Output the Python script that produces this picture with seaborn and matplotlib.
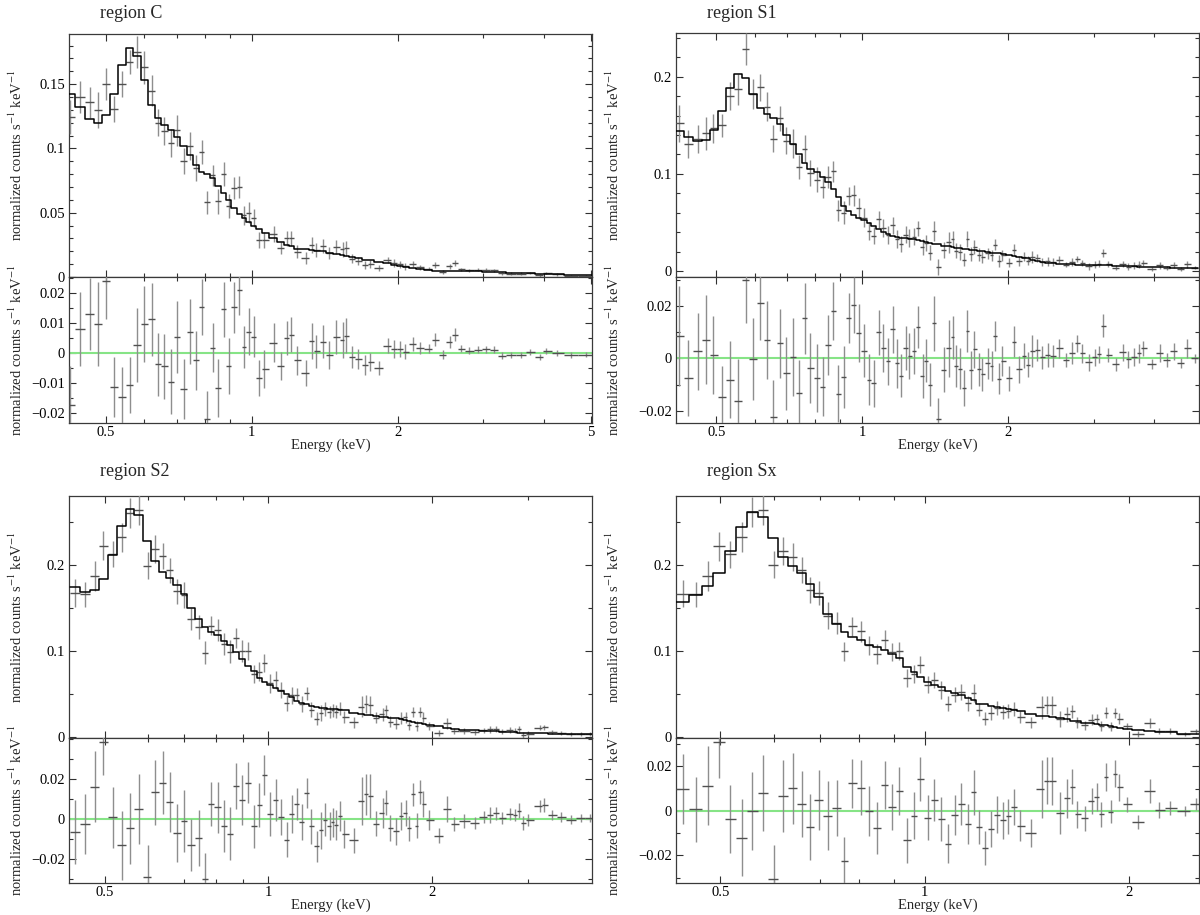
import numpy as np
import matplotlib
matplotlib.use("Agg")
import matplotlib.pyplot as plt
import matplotlib.ticker as mticker
import seaborn as sns

# ---------------- region C ----------------
c_energy = [0.4227, 0.4422, 0.4648, 0.4820, 0.5016, 0.5202, 0.5396, 0.5598, 0.5806, 0.6010,
            0.6223, 0.6408, 0.6608, 0.6805, 0.7007, 0.7240, 0.7465, 0.7659, 0.7887, 0.8077,
            0.8302, 0.8532, 0.8768, 0.8964, 0.9194, 0.9417, 0.9642, 0.9856, 1.0092, 1.0354,
            1.0602, 1.1097, 1.1466, 1.1829, 1.2047, 1.2403, 1.2910, 1.3317, 1.3587, 1.4042,
            1.4456, 1.4937, 1.5409, 1.5635, 1.6069, 1.6576, 1.7130, 1.7541, 1.8259, 1.9110,
            1.9642, 2.0188, 2.0749, 2.1517, 2.2197, 2.3150, 2.3925, 2.4768, 2.5594, 2.6208,
            2.7035, 2.8037, 2.9345, 3.0436, 3.1569, 3.2740, 3.4266, 3.5865, 3.7538, 3.9289,
            4.0379, 4.2658, 4.5478, 4.8915]
c_data = [0.1245, 0.140, 0.136, 0.1297, 0.150, 0.1305, 0.150, 0.167, 0.175, 0.163,
          0.145, 0.120, 0.1135, 0.104, 0.114, 0.090, 0.102, 0.0845, 0.097, 0.058,
          0.079, 0.059, 0.080, 0.0555, 0.069, 0.070, 0.048, 0.050, 0.0455, 0.0287,
          0.0287, 0.0335, 0.0225, 0.030, 0.030, 0.0195, 0.0147, 0.025, 0.021, 0.0238,
          0.0184, 0.0233, 0.0214, 0.0223, 0.0142, 0.0125, 0.0095, 0.010, 0.007, 0.013,
          0.0108, 0.0098, 0.0082, 0.010, 0.0077, 0.0066, 0.0094, 0.0042, 0.0083, 0.0107,
          0.0059, 0.0053, 0.0055, 0.0055, 0.0051, 0.0028, 0.0026, 0.0025, 0.0031, 0.0013,
          0.003, 0.002, 0.001, 0.0007]
c_err = [0.013, 0.0125, 0.012, 0.014, 0.0125, 0.010, 0.010, 0.0095, 0.0125, 0.0128,
         0.0122, 0.0106, 0.011, 0.011, 0.012, 0.010, 0.011, 0.010, 0.0094, 0.0092,
         0.0083, 0.0097, 0.0092, 0.0094, 0.0086, 0.0086, 0.0072, 0.008, 0.007, 0.006,
         0.0064, 0.0064, 0.0047, 0.0058, 0.0058, 0.005, 0.0044, 0.006, 0.0055, 0.0055,
         0.0047, 0.0058, 0.006, 0.0058, 0.0036, 0.0033, 0.0033, 0.003, 0.0023, 0.0025,
         0.003, 0.0028, 0.0025, 0.0025, 0.002, 0.0015, 0.0022, 0.0015, 0.002, 0.0022,
         0.0012, 0.0012, 0.0012, 0.0012, 0.0011, 0.0011, 0.001, 0.001, 0.001, 0.001,
         0.001, 0.0009, 0.0009, 0.0008]
c_model = [0.142, 0.132, 0.123, 0.120, 0.126, 0.142, 0.165, 0.178, 0.172, 0.153,
           0.134, 0.124, 0.118, 0.114, 0.109, 0.102, 0.095, 0.087, 0.082, 0.080,
           0.077, 0.071, 0.065, 0.060, 0.054, 0.049, 0.046, 0.043, 0.040, 0.037,
           0.034, 0.030, 0.027, 0.025, 0.024, 0.022, 0.0215, 0.021, 0.0205, 0.020,
           0.019, 0.018, 0.017, 0.0165, 0.0155, 0.0145, 0.0135, 0.013, 0.012, 0.0105,
           0.0095, 0.0085, 0.0078, 0.007, 0.006, 0.0052, 0.005, 0.0048, 0.0047, 0.0046,
           0.0045, 0.0045, 0.0044, 0.0042, 0.004, 0.0037, 0.0034, 0.0031, 0.0029, 0.0026,
           0.0024, 0.002, 0.0017, 0.0013]
c_resid = [-0.0175, 0.008, 0.013, 0.0097, 0.024, -0.0115, -0.0147, -0.0107, 0.0027, 0.0097,
           0.0113, -0.0038, -0.0045, -0.0096, 0.0053, -0.012, 0.0072, -0.0025, 0.0153, -0.022,
           0.0018, -0.0117, 0.0147, -0.0045, 0.0153, 0.0213, 0.002, 0.0072, 0.0055, -0.0083,
           -0.0053, 0.0035, -0.0045, 0.0051, 0.0062, -0.0025, -0.0068, 0.0041, 0.0006, 0.0038,
           -0.0006, 0.0053, 0.0044, 0.0058, -0.0013, -0.002, -0.004, -0.003, -0.005, 0.0025,
           0.0013, 0.0013, 0.0004, 0.003, 0.0017, 0.0014, 0.0044, -0.0006, 0.0036, 0.0061,
           0.0014, 0.0008, 0.0011, 0.0013, 0.0011, -0.0009, -0.0008, -0.0006, 0.0002, -0.0013,
           0.0006, 0.0, -0.0007, -0.0006]

# ---------------- region S1 ----------------
s1_energy = [0.4188, 0.4375, 0.4589, 0.4759, 0.4934, 0.5137, 0.5347, 0.5556, 0.5753, 0.5944,
             0.6166, 0.6361, 0.6561, 0.6757, 0.6969, 0.7201, 0.7401, 0.7605, 0.7816, 0.8062,
             0.8286, 0.8501, 0.8721, 0.8931, 0.9162, 0.9382, 0.9607, 0.9837, 1.0092, 1.0334,
             1.0563, 1.0816, 1.1056, 1.1301, 1.1551, 1.1806, 1.2023, 1.2289, 1.2515, 1.2794,
             1.3030, 1.3318, 1.3563, 1.3813, 1.4067, 1.4326, 1.4723, 1.5076, 1.5355, 1.5637,
             1.5925, 1.6218, 1.6457, 1.6759, 1.7039, 1.7384, 1.7703, 1.8160, 1.8493, 1.8765,
             1.9110, 1.9461, 2.0113, 2.0558, 2.1051, 2.1597, 2.1994, 2.2439, 2.2935, 2.3486,
             2.4138, 2.4763, 2.5506, 2.6303, 2.7035, 2.7781, 2.8445, 2.9290, 3.0170, 3.0837,
             3.1403, 3.2156, 3.3343, 3.4452, 3.5409, 3.6392, 3.7197, 3.7950, 3.9510, 4.1131,
             4.2506, 4.3920, 4.5474, 4.6737, 4.8470]
s1_data = [0.152, 0.1305, 0.136, 0.142, 0.147, 0.150, 0.180, 0.187, 0.229, 0.182,
           0.189, 0.169, 0.136, 0.157, 0.134, 0.131, 0.107, 0.126, 0.101, 0.094,
           0.086, 0.0966, 0.1026, 0.0624, 0.060, 0.077, 0.078, 0.0646, 0.055, 0.041,
           0.0365, 0.053, 0.044, 0.037, 0.047, 0.033, 0.0274, 0.0374, 0.034, 0.0353,
           0.044, 0.0243, 0.029, 0.019, 0.0414, 0.0043, 0.0217, 0.0294, 0.033, 0.021,
           0.0196, 0.0117, 0.0329, 0.0176, 0.0249, 0.0169, 0.0144, 0.0181, 0.0161, 0.0271,
           0.0103, 0.016, 0.0084, 0.0218, 0.0099, 0.0145, 0.0106, 0.0144, 0.0138, 0.0094,
           0.0098, 0.0092, 0.0114, 0.0064, 0.0088, 0.0123, 0.0083, 0.0047, 0.0066, 0.0076,
           0.0184, 0.0071, 0.0033, 0.0073, 0.0045, 0.0053, 0.0065, 0.0083, 0.0021, 0.006,
           0.0031, 0.0062, 0.0016, 0.0071, 0.0032]
s1_err = [0.019, 0.0144, 0.0146, 0.017, 0.015, 0.012, 0.0147, 0.016, 0.0165, 0.0155,
          0.014, 0.015, 0.014, 0.013, 0.0138, 0.0149, 0.0127, 0.0136, 0.0133, 0.0128,
          0.0113, 0.0114, 0.011, 0.0108, 0.0117, 0.0095, 0.0106, 0.011, 0.0101, 0.0096,
          0.009, 0.0085, 0.0092, 0.0089, 0.0089, 0.0092, 0.0082, 0.0084, 0.0089, 0.0089,
          0.0079, 0.0082, 0.0082, 0.0081, 0.0104, 0.008, 0.0085, 0.0108, 0.0082, 0.0081,
          0.0079, 0.007, 0.0079, 0.0073, 0.0071, 0.0063, 0.0062, 0.006, 0.0057, 0.0057,
          0.006, 0.0057, 0.0047, 0.0059, 0.0051, 0.0047, 0.0047, 0.0062, 0.0041, 0.0044,
          0.0047, 0.0041, 0.0036, 0.0028, 0.0041, 0.0034, 0.0035, 0.0032, 0.0032, 0.0032,
          0.0044, 0.0028, 0.0025, 0.0032, 0.0032, 0.0035, 0.0035, 0.0028, 0.002, 0.0035,
          0.0025, 0.0032, 0.002, 0.0036, 0.0016]
s1_model = [0.1438, 0.138, 0.1335, 0.135, 0.1455, 0.1645, 0.188, 0.203, 0.199, 0.182,
            0.168, 0.162, 0.158, 0.151, 0.140, 0.131, 0.120, 0.111, 0.105, 0.1017,
            0.0966, 0.0914, 0.0845, 0.0759, 0.067, 0.062, 0.058, 0.055, 0.052, 0.049,
            0.046, 0.043, 0.040, 0.038, 0.036, 0.035, 0.034, 0.0335, 0.033, 0.0325,
            0.032, 0.031, 0.030, 0.029, 0.028, 0.0275, 0.026, 0.0255, 0.025, 0.024,
            0.0235, 0.023, 0.0225, 0.022, 0.0215, 0.021, 0.0205, 0.020, 0.019, 0.0185,
            0.018, 0.017, 0.016, 0.0155, 0.014, 0.0135, 0.013, 0.0115, 0.0105, 0.009,
            0.0085, 0.0083, 0.0075, 0.007, 0.0068, 0.0066, 0.0064, 0.0062, 0.0062, 0.006,
            0.006, 0.0058, 0.0055, 0.005, 0.0048, 0.0047, 0.0046, 0.0045, 0.0043, 0.004,
            0.0037, 0.0035, 0.0034, 0.0033, 0.0032]
s1_resid = [0.0084, -0.0075, 0.0027, 0.0071, 0.0013, -0.0148, -0.0081, -0.0163, 0.0298, -0.0003,
            0.021, 0.007, -0.0222, 0.0057, -0.0057, 0.0004, -0.0133, 0.0153, -0.0037, -0.0075,
            -0.0108, 0.0052, 0.0181, -0.0135, -0.007, 0.0153, 0.0204, 0.0096, 0.0029, -0.0081,
            -0.0095, 0.0099, 0.0039, -0.0011, 0.0111, -0.0019, -0.0066, 0.0039, 0.0009, 0.0028,
            0.012, -0.0067, -0.0009, -0.01, 0.0134, -0.0232, -0.0043, 0.0039, 0.008, -0.0029,
            -0.0039, -0.0113, 0.0104, -0.0044, 0.0034, -0.0041, -0.0061, -0.0019, -0.0029, 0.0086,
            -0.0077, -0.001, -0.0076, 0.0063, -0.0041, 0.001, -0.0024, 0.0029, 0.0033, 0.0004,
            0.0013, 0.0009, 0.0039, -0.0006, 0.002, 0.0057, 0.0019, -0.0015, 0.0004, 0.0016,
            0.0124, 0.0013, -0.0022, 0.0023, -0.0003, 0.0006, 0.0019, 0.0038, -0.0022, 0.002,
            -0.0006, 0.0027, -0.0018, 0.0038, 0.0]

# ---------------- region S2 ----------------
s2_energy = [0.4406, 0.4603, 0.4794, 0.4974, 0.5182, 0.5379, 0.5574, 0.5777, 0.5997, 0.6194,
             0.6400, 0.6590, 0.6797, 0.6998, 0.7206, 0.7444, 0.7652, 0.7841, 0.8074, 0.8296,
             0.8502, 0.8740, 0.8956, 0.9175, 0.9402, 0.9634, 0.9839, 1.0081, 1.0330, 1.0551,
             1.0810, 1.1058, 1.1294, 1.1535, 1.1763, 1.1995, 1.2272, 1.2514, 1.2719, 1.2970,
             1.3138, 1.3310, 1.3527, 1.3794, 1.4408, 1.4884, 1.5129, 1.5376, 1.5806, 1.6224,
             1.6489, 1.6759, 1.7171, 1.7566, 1.7884, 1.8175, 1.8474, 1.8745, 1.8988, 1.9299,
             1.9776, 2.0594, 2.1341, 2.1973, 2.2958, 2.4029, 2.4900, 2.5553, 2.6268, 2.6915,
             2.7803, 2.8489, 2.8953, 2.9430, 3.0053, 3.1558, 3.2176, 3.3237, 3.4620, 3.6053,
             3.7544, 3.9096]
s2_data = [0.1674, 0.1654, 0.187, 0.222, 0.2123, 0.2317, 0.260, 0.263, 0.199, 0.218,
           0.210, 0.1934, 0.169, 0.165, 0.137, 0.1275, 0.098, 0.129, 0.124, 0.1085,
           0.099, 0.115, 0.100, 0.100, 0.073, 0.076, 0.086, 0.0625, 0.066, 0.0547,
           0.0396, 0.0485, 0.0494, 0.0382, 0.051, 0.032, 0.0213, 0.028, 0.033, 0.029,
           0.031, 0.0294, 0.033, 0.0236, 0.0173, 0.0354, 0.0382, 0.037, 0.0225, 0.0263,
           0.0311, 0.0179, 0.0157, 0.0225, 0.0228, 0.0142, 0.0297, 0.013, 0.0295, 0.0224,
           0.013, 0.0047, 0.0159, 0.0074, 0.0073, 0.0057, 0.0079, 0.009, 0.0094, 0.0069,
           0.0083, 0.0073, 0.009, 0.0027, 0.0041, 0.0109, 0.0113, 0.006, 0.0047, 0.0032,
           0.0038, 0.0037]
s2_err = [0.016, 0.015, 0.0178, 0.0165, 0.0152, 0.017, 0.0177, 0.0173, 0.016, 0.0163,
          0.0156, 0.0148, 0.0145, 0.0154, 0.0129, 0.0138, 0.013, 0.011, 0.0128, 0.0128,
          0.0132, 0.0113, 0.0123, 0.0103, 0.0107, 0.0111, 0.0099, 0.011, 0.0103, 0.009,
          0.0088, 0.0095, 0.0078, 0.009, 0.0074, 0.0086, 0.0077, 0.009, 0.0082, 0.007,
          0.0074, 0.0074, 0.0074, 0.007, 0.0062, 0.0119, 0.0103, 0.0109, 0.0062, 0.0074,
          0.0064, 0.0066, 0.0066, 0.007, 0.0066, 0.0062, 0.0058, 0.0062, 0.0059, 0.0067,
          0.005, 0.0038, 0.0066, 0.0036, 0.0036, 0.003, 0.003, 0.004, 0.0033, 0.003,
          0.003, 0.003, 0.0037, 0.0037, 0.003, 0.0028, 0.0033, 0.0025, 0.0025, 0.0022,
          0.002, 0.002]
s2_model = [0.174, 0.168, 0.171, 0.1835, 0.2115, 0.245, 0.265, 0.258, 0.228, 0.2046,
            0.192, 0.185, 0.176, 0.166, 0.150, 0.137, 0.128, 0.122, 0.118, 0.112,
            0.1065, 0.099, 0.091, 0.082, 0.077, 0.069, 0.064, 0.060, 0.0565, 0.054,
            0.050, 0.046, 0.042, 0.040, 0.038, 0.036, 0.035, 0.034, 0.0335, 0.033,
            0.0328, 0.0325, 0.0315, 0.031, 0.028, 0.0265, 0.026, 0.0255, 0.025, 0.0235,
            0.023, 0.0225, 0.022, 0.021, 0.020, 0.019, 0.0175, 0.0165, 0.016, 0.015,
            0.0135, 0.0131, 0.011, 0.010, 0.0085, 0.0078, 0.0072, 0.007, 0.0066, 0.0064,
            0.006, 0.0055, 0.005, 0.0048, 0.0046, 0.0045, 0.0044, 0.0042, 0.004, 0.0037,
            0.0035, 0.0034]
s2_resid = [-0.0066, -0.0026, 0.016, 0.0385, 0.0008, -0.0133, -0.0048, 0.0049, -0.029, 0.0132,
            0.018, 0.0084, -0.0071, -0.001, -0.013, -0.0095, -0.0301, 0.0074, 0.0058, -0.0035,
            -0.0074, 0.0163, 0.0094, 0.018, -0.0038, 0.0069, 0.022, 0.0025, 0.0094, 0.0007,
            -0.0104, 0.0025, 0.0074, -0.0018, 0.013, -0.0038, -0.0137, -0.0058, -0.0005, -0.0038,
            -0.0018, -0.0031, 0.0015, -0.0074, -0.0107, 0.0089, 0.0122, 0.0115, -0.0025, 0.0028,
            0.0081, -0.0046, -0.0063, 0.0015, 0.0028, -0.0048, 0.0122, -0.0035, 0.0135, 0.0074,
            -0.0005, -0.0084, 0.0049, -0.0026, -0.0012, -0.0021, 0.0007, 0.002, 0.0028, 0.0005,
            0.0023, 0.0018, 0.004, -0.0021, -0.0005, 0.0064, 0.0069, 0.0018, 0.0007, -0.0005,
            0.0003, 0.0003]

# ---------------- region Sx ----------------
sx_energy = [0.4399, 0.4598, 0.4786, 0.4976, 0.5166, 0.5372, 0.5572, 0.5779, 0.5985, 0.6182,
             0.6387, 0.6582, 0.6773, 0.6979, 0.7199, 0.7417, 0.7612, 0.7813, 0.8050, 0.8283,
             0.8501, 0.8724, 0.8955, 0.9166, 0.9408, 0.9643, 0.9845, 1.0104, 1.0330, 1.0575,
             1.0811, 1.1066, 1.1314, 1.1567, 1.1795, 1.2026, 1.2280, 1.2506, 1.2768, 1.3020,
             1.3275, 1.3537, 1.3785, 1.4333, 1.4864, 1.5118, 1.5395, 1.5797, 1.6214, 1.6492,
             1.6773, 1.7216, 1.7601, 1.7900, 1.8182, 1.8470, 1.8783, 1.9027, 1.9326, 1.9862,
             2.0570, 2.1444, 2.2152, 2.2973, 2.4135, 2.5093]
sx_data = [0.1664, 0.1657, 0.1871, 0.2211, 0.2118, 0.2317, 0.261, 0.2635, 0.2001, 0.2159,
           0.2089, 0.1935, 0.1704, 0.1672, 0.1409, 0.1327, 0.0995, 0.1283, 0.1227, 0.1065,
           0.0963, 0.1131, 0.0985, 0.1001, 0.0683, 0.0736, 0.0842, 0.061, 0.0659, 0.0548,
           0.039, 0.0491, 0.0519, 0.0391, 0.0513, 0.0317, 0.0214, 0.028, 0.0337, 0.0292,
           0.0305, 0.0329, 0.0233, 0.0171, 0.0344, 0.0376, 0.0368, 0.021, 0.0266, 0.030,
           0.017, 0.0136, 0.0204, 0.0211, 0.0127, 0.0285, 0.0122, 0.0282, 0.0215, 0.013,
           0.0035, 0.0164, 0.0069, 0.0072, 0.0038, 0.0066]
sx_err = [0.0158, 0.0146, 0.0177, 0.0163, 0.0154, 0.0172, 0.0175, 0.0171, 0.0153, 0.0161,
          0.0159, 0.0148, 0.0148, 0.0136, 0.0153, 0.0127, 0.0107, 0.0111, 0.0122, 0.0113,
          0.0117, 0.0107, 0.0104, 0.0107, 0.0102, 0.0105, 0.0098, 0.0102, 0.0094, 0.01,
          0.0087, 0.0089, 0.0093, 0.0091, 0.01, 0.0076, 0.0076, 0.0081, 0.0083, 0.0084,
          0.0078, 0.0081, 0.007, 0.0063, 0.013, 0.0104, 0.0107, 0.0093, 0.0087, 0.0078,
          0.0061, 0.0056, 0.0059, 0.0063, 0.0056, 0.0063, 0.0052, 0.0059, 0.0061, 0.0033,
          0.0033, 0.0056, 0.0037, 0.0032, 0.0022, 0.0026]
sx_model = [0.1565, 0.165, 0.1758, 0.19, 0.2154, 0.2438, 0.261, 0.2554, 0.2308, 0.2092,
            0.1988, 0.1904, 0.1777, 0.1623, 0.143, 0.1315, 0.122, 0.116, 0.1123, 0.1065,
            0.104, 0.1015, 0.0969, 0.0912, 0.0815, 0.0758, 0.070, 0.064, 0.061, 0.0585,
            0.0538, 0.051, 0.0488, 0.045, 0.043, 0.039, 0.038, 0.036, 0.0355, 0.0335,
            0.033, 0.031, 0.030, 0.027, 0.0246, 0.024, 0.0235, 0.022, 0.021, 0.0192,
            0.0185, 0.0169, 0.016, 0.015, 0.0142, 0.0135, 0.0125, 0.0115, 0.011, 0.010,
            0.0085, 0.0075, 0.0065, 0.006, 0.0038, 0.0035]
sx_resid = [0.0099, 0.0007, 0.0113, 0.0311, -0.0036, -0.0121, 0.0, 0.0081, -0.0307, 0.0067,
            0.0101, 0.0031, -0.0073, 0.0049, -0.0021, 0.0012, -0.0225, 0.0123, 0.0104, 0.0,
            -0.0077, 0.0116, 0.0016, 0.0089, -0.0132, -0.0022, 0.0142, -0.003, 0.0049, -0.0037,
            -0.0148, -0.0019, 0.0031, -0.0059, 0.0083, -0.0073, -0.0166, -0.008, -0.0018, -0.0043,
            -0.0025, 0.0019, -0.0067, -0.0099, 0.0098, 0.0136, 0.0133, -0.001, 0.0056, 0.0108,
            -0.0015, -0.0033, 0.0044, 0.0061, -0.0015, 0.015, -0.0003, 0.0167, 0.0105, 0.003,
            -0.005, 0.0089, 0.0004, 0.0012, 0.0, 0.0031]

titles = ["region C", "region S1", "region S2", "region Sx"]
x_major_ticks = [0.5, 1, 2, 5]
x_minor_ticks = [0.4, 0.6, 0.7, 0.8, 0.9, 3, 4]
c_up_ticks = [0, 0.05, 0.1, 0.15]
c_lo_ticks = [-0.02, -0.01, 0, 0.01, 0.02]
s_up_ticks = [0, 0.1, 0.2]
s_lo_ticks = [-0.02, 0, 0.02]
ylabel_text = "normalized counts s$^{-1}$ keV$^{-1}$"
xlabel_text = "Energy (keV)"

# ---------------- style ----------------
sns.set_theme(style="ticks")
plt.rcParams["font.family"] = ["Liberation Serif", "DejaVu Serif"]
plt.rcParams["mathtext.fontset"] = "stix"
plt.rcParams["axes.unicode_minus"] = True

W, H = 1200, 915
fig = plt.figure(figsize=(W / 100, H / 100), dpi=100)
fig.patch.set_facecolor("white")


def add_px_axes(left, top, right, bottom):
    return fig.add_axes([left / W, 1 - bottom / H, (right - left) / W, (bottom - top) / H])


def bin_edges(e):
    e = np.asarray(e, float)
    mid = np.sqrt(e[:-1] * e[1:])
    return np.concatenate([[e[0] ** 2 / mid[0]], mid, [e[-1] ** 2 / mid[-1]]])


def yfmt(v, _):
    s = "%g" % round(v, 6)
    if s == "-0":
        s = "0"
    return s.replace("-", "\u2212")


def style_axes(ax, xlim, ylim, ymaj, ymin):
    ax.set_xscale("log")
    ax.set_xlim(*xlim)
    ax.set_ylim(*ylim)
    ax.set_facecolor("white")
    ax.xaxis.set_major_locator(mticker.FixedLocator(x_major_ticks))
    ax.xaxis.set_minor_locator(mticker.FixedLocator(x_minor_ticks))
    ax.xaxis.set_major_formatter(mticker.FuncFormatter(lambda v, _: "%g" % v))
    ax.xaxis.set_minor_formatter(mticker.NullFormatter())
    ax.yaxis.set_major_locator(mticker.FixedLocator(ymaj))
    ax.yaxis.set_minor_locator(mticker.MultipleLocator(ymin))
    ax.yaxis.set_major_formatter(mticker.FuncFormatter(yfmt))
    ax.tick_params(which="both", direction="in", top=True, right=True,
                   colors="#303030", labelcolor="black", labelsize=10.5, pad=3)
    ax.tick_params(which="major", length=5, width=0.8)
    ax.tick_params(which="minor", length=2.8, width=0.8)
    for sp in ax.spines.values():
        sp.set_color("#3a3a3a")
        sp.set_linewidth(0.9)
    ax.grid(False)


def draw_crosses(ax, e, y, err):
    e = np.asarray(e, float)
    edges = bin_edges(e)
    ax.errorbar(e, y, yerr=err, fmt="none", ecolor="#8e8e8e", elinewidth=1.0,
                capsize=0, zorder=3)
    ax.errorbar(e, y, xerr=[e - edges[:-1], edges[1:] - e], fmt="none",
                ecolor="#505050", elinewidth=1.0, capsize=0, zorder=4)


panels = [
    dict(title=titles[0], e=c_energy, d=c_data, s=c_err, m=c_model, r=c_resid,
         left=69, right=592, top=34, mid=277, bottom=423, ty=13, ylab_x=18,
         xlim=(0.42, 5.03), yup=(0.0, 0.189), ylo=(-0.0235, 0.0255),
         up_ticks=(c_up_ticks, 0.01), lo_ticks=(c_lo_ticks, 0.005)),
    dict(title=titles[1], e=s1_energy, d=s1_data, s=s1_err, m=s1_model, r=s1_resid,
         left=676, right=1199, top=33, mid=277, bottom=423, ty=13, ylab_x=615,
         xlim=(0.413, 4.95), yup=(-0.0062, 0.245), ylo=(-0.0246, 0.031),
         up_ticks=(s_up_ticks, 0.02), lo_ticks=(s_lo_ticks, 0.01)),
    dict(title=titles[2], e=s2_energy, d=s2_data, s=s2_err, m=s2_model, r=s2_resid,
         left=69, right=592, top=496, mid=738, bottom=883, ty=472, ylab_x=18,
         xlim=(0.43, 3.94), yup=(-0.001, 0.2796), ylo=(-0.032, 0.0403),
         up_ticks=(s_up_ticks, 0.05), lo_ticks=(s_lo_ticks, 0.01)),
    dict(title=titles[3], e=sx_energy, d=sx_data, s=sx_err, m=sx_model, r=sx_resid,
         left=676, right=1199, top=496, mid=738, bottom=883, ty=472, ylab_x=615,
         xlim=(0.43, 2.533), yup=(-0.001, 0.2796), ylo=(-0.0324, 0.0327),
         up_ticks=(s_up_ticks, 0.05), lo_ticks=(s_lo_ticks, 0.01)),
]

for p in panels:
    width = p["right"] - p["left"]
    ax_up = add_px_axes(p["left"], p["top"], p["right"], p["mid"])
    ax_lo = add_px_axes(p["left"], p["mid"], p["right"], p["bottom"])
    style_axes(ax_up, p["xlim"], p["yup"], *p["up_ticks"])
    style_axes(ax_lo, p["xlim"], p["ylo"], *p["lo_ticks"])
    ax_up.tick_params(labelbottom=False)
    ax_lo.tick_params(axis="x", pad=2)

    # spectrum with model
    draw_crosses(ax_up, p["e"], p["d"], p["s"])
    edges = bin_edges(p["e"])
    step_x = np.repeat(edges, 2)[1:-1]
    step_y = np.repeat(np.asarray(p["m"], float), 2)
    sns.lineplot(x=step_x, y=step_y, sort=False, estimator=None, color="black",
                 linewidth=1.1, ax=ax_up, zorder=5)

    # residuals
    ax_lo.axhline(0, color="#86e486", linewidth=1.5, zorder=2)
    draw_crosses(ax_lo, p["e"], p["r"], p["s"])

    ax_up.set_xlabel("")
    ax_lo.set_xlabel(xlabel_text, fontsize=10.5, labelpad=0)
    for ax in (ax_up, ax_lo):
        ax.set_ylabel(ylabel_text, fontsize=10.5)
        ax.yaxis.set_label_coords((p["ylab_x"] + 7 - p["left"]) / width, 0.5)

    fig.text((p["left"] + 31) / W, 1 - p["ty"] / H, p["title"], fontsize=13,
             ha="left", va="center")

fig.savefig("out.png", dpi=100, facecolor="white")
